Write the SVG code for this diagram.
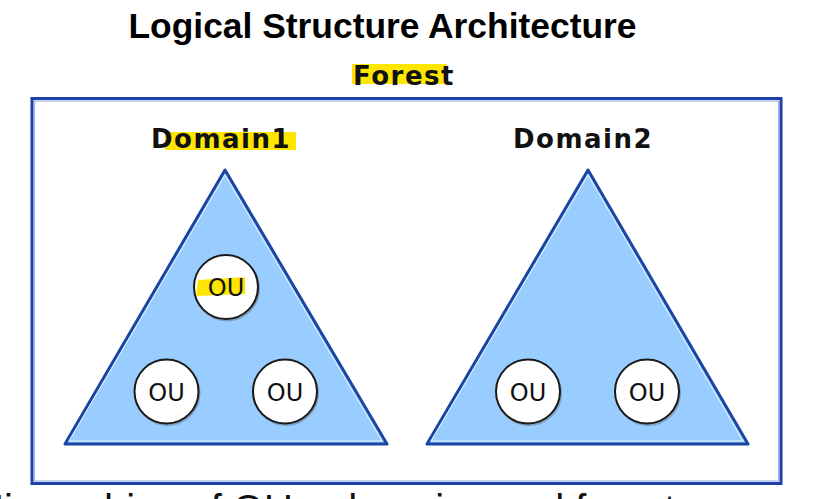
<svg xmlns="http://www.w3.org/2000/svg" width="816" height="499" viewBox="0 0 816 499">
  <defs>
    <style>
      .title { font-family: "Liberation Sans", Arial, sans-serif; font-weight: bold; font-size: 35.4px; fill: #000; }
      .lbl { font-family: "DejaVu Sans", Verdana, sans-serif; font-weight: bold; font-size: 26px; letter-spacing: 1.5px; fill: #111; }
      .hl { fill: #ffe600; }
      .tri { fill: #99ccff; stroke: #1b45a3; stroke-width: 3; stroke-linejoin: round; }
      .triIn { fill: none; stroke: #e8f3ff; stroke-width: 1; stroke-linejoin: round; }
      .ou circle.c { fill: #fff; stroke: #1a1a1a; stroke-width: 2; }
      .ou circle.s { fill: none; stroke: #6a7f96; stroke-width: 2; opacity: 0.6; }
      .out { font-family: "DejaVu Sans", Verdana, sans-serif; font-size: 24px; fill: #111; text-anchor: middle; }
      .bottom { font-family: "Liberation Sans", Arial, sans-serif; font-size: 40px; fill: #111; }
    </style>
  </defs>
  <rect width="816" height="499" fill="#fff"/>

  <text class="title" x="382.5" y="38" text-anchor="middle">Logical Structure Architecture</text>

  <g id="forest">
    <rect x="32" y="98.5" width="749" height="385" fill="#fff" stroke="#1d41a8" stroke-width="3"/>
    <rect x="34.5" y="101" width="744" height="380" fill="none" stroke="#9fb4e6" stroke-width="1.2"/>
    <rect class="hl" x="352" y="64" width="95" height="20"/>
    <text class="lbl" x="353" y="85">Forest</text>
  </g>

  <g id="domain1">
    <rect class="hl" x="165" y="132" width="131" height="18"/>
    <text class="lbl" x="151" y="148">Domain1</text>
    <path class="tri" d="M225,170 L387,444 L65,444 Z"/>
    <path class="triIn" d="M225,175 L382,441 L69,441 Z"/>
  </g>

  <g id="domain2">
    <text class="lbl" x="513" y="148">Domain2</text>
    <path class="tri" d="M588,170 L748,444 L427,444 Z"/>
    <path class="triIn" d="M588,175 L743,441 L431,441 Z"/>
  </g>

  <g id="ou1" class="ou">
    <circle class="s" cx="227" cy="288.5" r="32"/>
    <circle class="c" cx="226" cy="287" r="32"/>
    <polygon class="hl" points="198,280 245,277 245,294 196,296"/>
    <text class="out" x="226" y="296">OU</text>
  </g>
  <g id="ou2" class="ou">
    <circle class="s" cx="167.5" cy="393" r="32"/>
    <circle class="c" cx="166.5" cy="391.5" r="32"/>
    <text class="out" x="166.5" y="401">OU</text>
  </g>
  <g id="ou3" class="ou">
    <circle class="s" cx="286" cy="393" r="32"/>
    <circle class="c" cx="285" cy="391.5" r="32"/>
    <text class="out" x="285" y="401">OU</text>
  </g>
  <g id="ou4" class="ou">
    <circle class="s" cx="529" cy="393" r="32"/>
    <circle class="c" cx="528" cy="391.5" r="32"/>
    <text class="out" x="528" y="401">OU</text>
  </g>
  <g id="ou5" class="ou">
    <circle class="s" cx="648" cy="393" r="32"/>
    <circle class="c" cx="647" cy="391.5" r="32"/>
    <text class="out" x="647" y="401">OU</text>
  </g>

  <g id="connectors"/>

  <text class="bottom" x="-25" y="523">Hierarchies of OUs, domains and forests</text>
</svg>
